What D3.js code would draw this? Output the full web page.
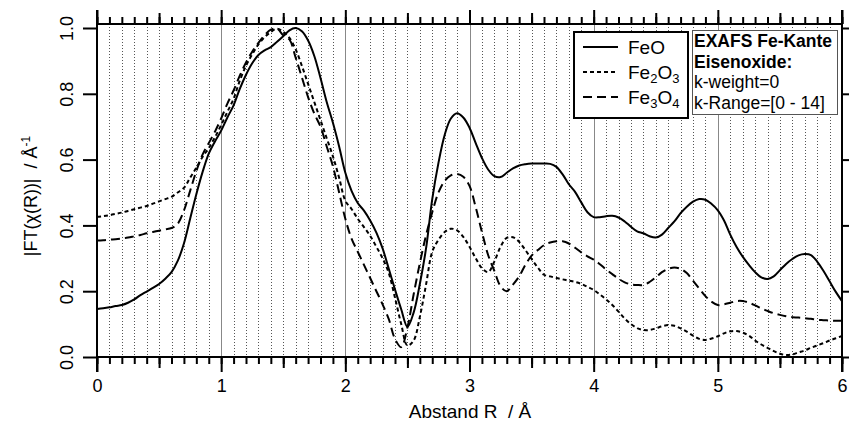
<!DOCTYPE html>
<html lang="de">
<head>
  <meta charset="UTF-8" />
  <title>EXAFS Fe-Kante Eisenoxide</title>
  <style>
    body { margin: 0; background: #fff; }
    svg { display: block; font-family: Arial, "Liberation Sans", sans-serif; }
    .grid-minor { stroke: #555; stroke-width: 1; stroke-dasharray: 1,2; }
    .grid-major { stroke: #888; stroke-width: 1; }
    .axis line, .axis path { stroke: #000; stroke-width: 2; }
    .tick text { fill: #000; }
    .curve { fill: none; stroke: #000; stroke-width: 2; }
    text { white-space: pre; }
  </style>
  <script src="https://d3js.org/d3.v7.min.js"></script>
</head>
<body>
  <svg id="canvas" width="850" height="432"></svg>
  <script>
    // R-Raster (Å), Schrittweite 0.05
    const rValues = d3.range(0, 121).map(i => +(i * 0.05).toFixed(2));

    const feO = [
      0.146, 0.148, 0.151, 0.155, 0.158, 0.165, 0.175, 0.188, 0.199, 0.210,
      0.222, 0.238, 0.258, 0.292, 0.345, 0.420, 0.495, 0.562, 0.618, 0.655,
      0.688, 0.728, 0.765, 0.815, 0.858, 0.893, 0.918, 0.932, 0.942, 0.958,
      0.975, 0.993, 1.000, 0.990, 0.962, 0.915, 0.848, 0.775, 0.712, 0.640,
      0.560, 0.505, 0.468, 0.445, 0.415, 0.378, 0.330, 0.268, 0.205, 0.145,
      0.092, 0.135, 0.222, 0.330, 0.480, 0.590, 0.675, 0.725, 0.741, 0.728,
      0.697, 0.650, 0.605, 0.570, 0.550, 0.547, 0.560, 0.573, 0.582, 0.586,
      0.588, 0.588, 0.588, 0.587, 0.578, 0.555, 0.525, 0.502, 0.470, 0.440,
      0.425, 0.425, 0.428, 0.429, 0.424, 0.412, 0.396, 0.382, 0.376, 0.367,
      0.363, 0.372, 0.392, 0.412, 0.437, 0.457, 0.472, 0.480, 0.478, 0.465,
      0.446, 0.415, 0.372, 0.335, 0.305, 0.280, 0.258, 0.242, 0.237, 0.245,
      0.264, 0.283, 0.298, 0.309, 0.313, 0.310, 0.290, 0.262, 0.230, 0.198,
      0.170
    ];

    const fe2O3 = [
      0.426, 0.428, 0.431, 0.435, 0.439, 0.444, 0.449, 0.454, 0.459, 0.466,
      0.473, 0.480, 0.487, 0.500, 0.514, 0.545, 0.575, 0.608, 0.635, 0.668,
      0.705, 0.745, 0.785, 0.840, 0.885, 0.920, 0.950, 0.972, 0.988, 0.998,
      0.988, 0.970, 0.935, 0.885, 0.830, 0.775, 0.720, 0.665, 0.610, 0.545,
      0.475, 0.450, 0.420, 0.395, 0.368, 0.335, 0.300, 0.255, 0.180, 0.100,
      0.035, 0.050, 0.122, 0.220, 0.320, 0.356, 0.380, 0.390, 0.385, 0.365,
      0.335, 0.300, 0.270, 0.258, 0.290, 0.335, 0.362, 0.364, 0.350, 0.325,
      0.298, 0.272, 0.250, 0.245, 0.240, 0.236, 0.232, 0.228, 0.222, 0.213,
      0.204, 0.190, 0.175, 0.158, 0.138, 0.117, 0.100, 0.088, 0.082, 0.082,
      0.087, 0.093, 0.097, 0.095, 0.087, 0.077, 0.065, 0.055, 0.052, 0.056,
      0.063, 0.072, 0.078, 0.079, 0.074, 0.065, 0.050, 0.038, 0.028, 0.018,
      0.010, 0.006, 0.008, 0.014, 0.020, 0.028, 0.035, 0.042, 0.050, 0.057,
      0.064
    ];

    const fe3O4 = [
      0.354, 0.355, 0.357, 0.358, 0.360, 0.363, 0.367, 0.371, 0.376, 0.380,
      0.384, 0.388, 0.392, 0.405, 0.445, 0.505, 0.565, 0.615, 0.650, 0.685,
      0.725, 0.770, 0.810, 0.855, 0.895, 0.928, 0.955, 0.978, 0.995, 0.998,
      0.978, 0.965, 0.910, 0.850, 0.790, 0.740, 0.700, 0.640, 0.580, 0.500,
      0.420, 0.360, 0.320, 0.280, 0.240, 0.200, 0.160, 0.115, 0.055, 0.030,
      0.090, 0.190, 0.285, 0.370, 0.440, 0.500, 0.535, 0.552, 0.556, 0.548,
      0.520, 0.455, 0.380, 0.310, 0.262, 0.215, 0.200, 0.220, 0.245, 0.280,
      0.308, 0.325, 0.340, 0.348, 0.352, 0.352, 0.345, 0.332, 0.318, 0.306,
      0.296, 0.282, 0.266, 0.252, 0.238, 0.227, 0.221, 0.219, 0.219, 0.228,
      0.242, 0.258, 0.268, 0.272, 0.268, 0.255, 0.232, 0.208, 0.185, 0.168,
      0.158, 0.160, 0.165, 0.170, 0.170, 0.165, 0.157, 0.148, 0.140, 0.133,
      0.128, 0.124, 0.121, 0.120, 0.118, 0.116, 0.113, 0.112, 0.111, 0.110,
      0.110
    ];

    const xTicks = [0, 1, 2, 3, 4, 5, 6];
    const yTicks = [0, 0.2, 0.4, 0.6, 0.8, 1.0];
    const seriesNames = ["FeO", "Fe2O3", "Fe3O4"];
    const infoLines = ["EXAFS Fe-Kante", "Eisenoxide:", "k-weight=0", "k-Range=[0 - 14]"];

    const svg = d3.select("#canvas");
    const plotL = 97, plotR = 842, plotT = 24, plotB = 357;

    const x = d3.scaleLinear().domain([0, 6]).range([plotL, plotR]);
    const y = d3.scaleLinear().domain([0, 1]).range([plotB, 28]);

    // Gitterlinien
    const minorR = d3.range(1, 60).map(i => i / 10).filter(v => Math.abs(v - Math.round(v)) > 1e-6);
    svg.append("g").selectAll("line").data(minorR).join("line")
      .attr("class", "grid-minor")
      .attr("x1", d => Math.round(x(d)) + 0.5).attr("x2", d => Math.round(x(d)) + 0.5)
      .attr("y1", plotT).attr("y2", plotB);
    svg.append("g").selectAll("line").data([1, 2, 3, 4, 5]).join("line")
      .attr("class", "grid-major")
      .attr("x1", d => Math.round(x(d)) + 0.5).attr("x2", d => Math.round(x(d)) + 0.5)
      .attr("y1", plotT).attr("y2", plotB);

    // Kurven
    const points = vals => rValues.map((r, i) => [r, vals[i]]);
    const line = d3.line()
      .x(d => x(d[0])).y(d => y(d[1]))
      .curve(d3.curveCatmullRom.alpha(0.5));

    const dashes = { FeO: null, Fe2O3: "4,3", Fe3O4: "9,5" };
    const seriesData = { FeO: feO, Fe2O3: fe2O3, Fe3O4: fe3O4 };
    seriesNames.forEach(name => {
      svg.append("path")
        .attr("class", "curve")
        .attr("d", line(points(seriesData[name])))
        .attr("stroke-dasharray", dashes[name]);
    });

    // Achsen
    const fmtNone = () => "";
    const minor01 = d3.range(0, 61).map(i => i / 10);
    const half = [0.5, 1.5, 2.5, 3.5, 4.5, 5.5];

    function addAxis(axis, tx, ty) {
      const g = svg.append("g").attr("class", "axis").attr("transform", `translate(${tx},${ty})`).call(axis);
      g.select(".domain").remove();
      return g;
    }

    // unten
    addAxis(d3.axisBottom(x).tickValues(minor01).tickSize(7).tickFormat(fmtNone), 0, plotB);
    addAxis(d3.axisBottom(x).tickValues(half).tickSize(11).tickFormat(fmtNone), 0, plotB);
    const gx = addAxis(d3.axisBottom(x).tickValues(xTicks).tickSize(15).tickPadding(7).tickFormat(d3.format("d")), 0, plotB);
    gx.selectAll("text").attr("font-size", 18);

    // oben
    addAxis(d3.axisTop(x).tickValues(minor01).tickSize(7).tickFormat(fmtNone), 0, plotT);
    addAxis(d3.axisTop(x).tickValues(half).tickSize(11).tickFormat(fmtNone), 0, plotT);
    addAxis(d3.axisTop(x).tickValues(xTicks).tickSize(14).tickFormat(fmtNone), 0, plotT);

    // links
    const gy = addAxis(d3.axisLeft(y).tickValues(yTicks).tickSize(14).tickPadding(14).tickFormat(d3.format(".1f")), plotL, 0);
    gy.selectAll("text")
      .attr("transform", "rotate(-90)")
      .attr("text-anchor", "middle")
      .attr("x", 0).attr("y", -30).attr("dy", "0.35em")
      .attr("font-size", 18);

    // rechts
    addAxis(d3.axisRight(y).tickValues(yTicks).tickSize(7).tickFormat(fmtNone), plotR, 0);

    // Achsenlinien
    const frame = svg.append("g").attr("stroke", "#000").attr("stroke-width", 2);
    frame.append("line").attr("x1", plotL).attr("x2", plotR).attr("y1", plotB).attr("y2", plotB);
    frame.append("line").attr("x1", plotL).attr("x2", plotR).attr("y1", plotT).attr("y2", plotT);
    frame.append("line").attr("x1", plotL).attr("x2", plotL).attr("y1", 10).attr("y2", 372);
    frame.append("line").attr("x1", plotR).attr("x2", plotR).attr("y1", 10).attr("y2", 372);

    // Achsentitel
    svg.append("text")
      .attr("x", 470).attr("y", 418)
      .attr("text-anchor", "middle").attr("font-size", 19)
      .text("Abstand R  / Å");

    const yTitle = svg.append("text")
      .attr("transform", `translate(37,196) rotate(-90)`)
      .attr("text-anchor", "middle").attr("font-size", 18);
    yTitle.append("tspan").text("|FT(χ(R))|  / Å");
    yTitle.append("tspan").attr("dy", -7).attr("font-size", 12).text("-1");

    // Legende
    const leg = svg.append("g");
    leg.append("rect").attr("x", 574).attr("y", 32).attr("width", 114).attr("height", 86)
      .attr("fill", "#fff").attr("stroke", "#000").attr("stroke-width", 2);
    const legLabels = {
      FeO: [["FeO", 0]],
      Fe2O3: [["Fe", 0], ["2", 1], ["O", 0], ["3", 1]],
      Fe3O4: [["Fe", 0], ["3", 1], ["O", 0], ["4", 1]]
    };
    seriesNames.forEach((name, i) => {
      const yy = 47 + i * 25;
      leg.append("line").attr("x1", 583).attr("x2", 618).attr("y1", yy).attr("y2", yy)
        .attr("stroke", "#000").attr("stroke-width", 2).attr("stroke-dasharray", dashes[name]);
      const t = leg.append("text").attr("x", 628).attr("y", yy + 6.5).attr("font-size", 19);
      legLabels[name].forEach(([s, sub]) => {
        t.append("tspan").attr("font-size", sub ? 13 : 19)
          .attr("baseline-shift", sub ? "-30%" : null).text(s);
      });
    });

    // Infokasten
    const info = svg.append("g");
    info.append("rect").attr("x", 692.5).attr("y", 30.5).attr("width", 145).attr("height", 84)
      .attr("fill", "#fff").attr("stroke", "#555").attr("stroke-width", 1);
    infoLines.forEach((s, i) => {
      info.append("text")
        .attr("x", 694).attr("y", 47 + i * 20.5)
        .attr("font-size", 17.5)
        .attr("font-weight", i < 2 ? "bold" : "normal")
        .text(s);
    });
  </script>
</body>
</html>
